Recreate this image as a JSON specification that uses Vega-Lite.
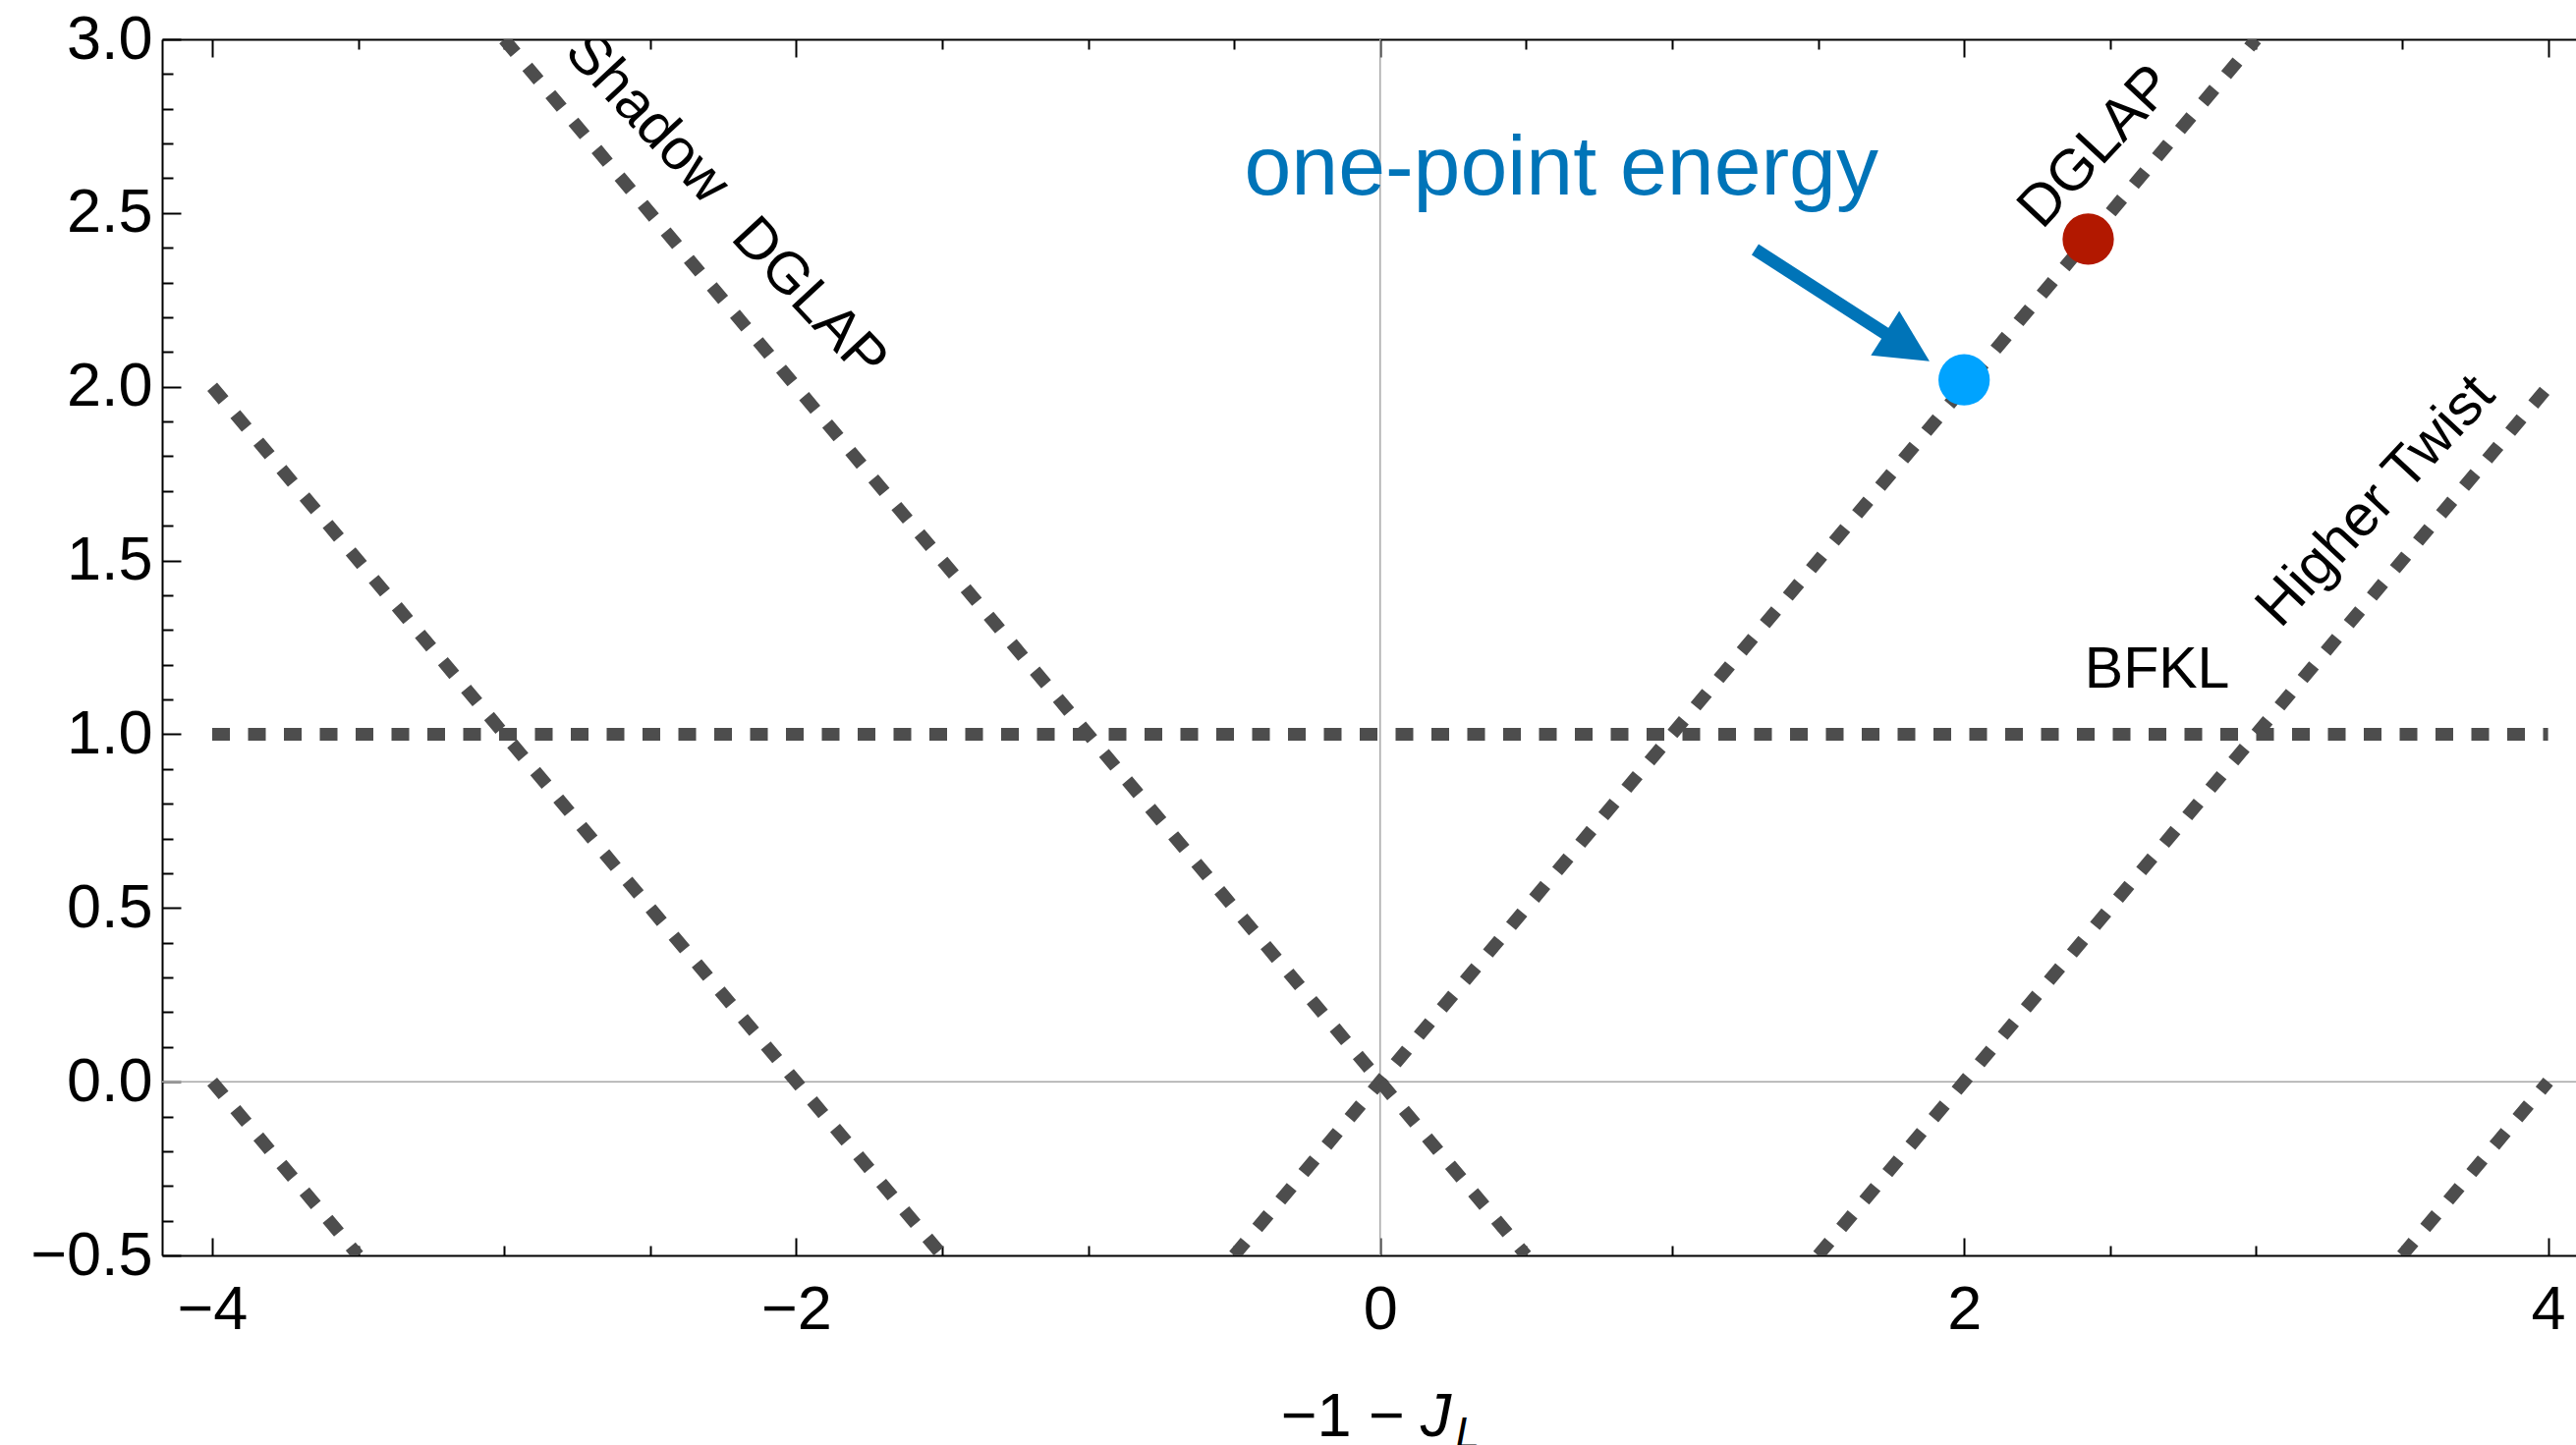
{
  "$schema": "https://vega.github.io/schema/vega-lite/v6.json",
  "width": 2457,
  "height": 1238,
  "autosize": {"type": "none"},
  "padding": {"left": 165, "top": 40, "right": 0, "bottom": 193},
  "background": "white",
  "config": {
    "view": {"stroke": null},
    "font": "Liberation Sans",
    "axis": {
      "grid": false,
      "domainColor": "black",
      "domainWidth": 2,
      "tickColor": "black",
      "tickWidth": 2,
      "labelFont": "Liberation Sans",
      "labelFontSize": 63,
      "labelColor": "black",
      "labelFlush": false,
      "labelOverlap": false,
      "zindex": 1
    }
  },
  "datasets": {
    "lines": [
      {"line": "DGLAP", "x": -0.5, "y": -0.5}, {"line": "DGLAP", "x": 3, "y": 3},
      {"line": "Shadow", "x": -3, "y": 3}, {"line": "Shadow", "x": 0.5, "y": -0.5},
      {"line": "S2", "x": -4, "y": 2}, {"line": "S2", "x": -1.5, "y": -0.5},
      {"line": "S4", "x": -4, "y": 0}, {"line": "S4", "x": -3.5, "y": -0.5},
      {"line": "HT", "x": 1.5, "y": -0.5}, {"line": "HT", "x": 4, "y": 2},
      {"line": "HT2", "x": 3.5, "y": -0.5}, {"line": "HT2", "x": 4, "y": 0},
      {"line": "BFKL", "x": -4, "y": 1}, {"line": "BFKL", "x": 4, "y": 1}
    ],
    "dots": [
      {"name": "one-point energy", "x": 2.0, "y": 2.02},
      {"name": "DGLAP", "x": 2.425, "y": 2.425}
    ]
  },
  "resolve": {"axis": {"x": "independent", "y": "independent"}},
  "layer": [
    {
      "data": {"values": [{"v": 0}]},
      "mark": {"type": "rule", "color": "#a8a8a8", "strokeWidth": 1.5},
      "encoding": {
        "x": {"field": "v", "type": "quantitative", "scale": {"domain": [-4.1716, 4.0956], "nice": false, "zero": false}, "axis": null}
      }
    },
    {
      "data": {"values": [{"v": 0}]},
      "mark": {"type": "rule", "color": "#a8a8a8", "strokeWidth": 1.5},
      "encoding": {
        "y": {"field": "v", "type": "quantitative", "scale": {"domain": [-0.5, 3.0], "nice": false, "zero": false}, "axis": null}
      }
    },
    {
      "data": {"name": "lines"},
      "mark": {"type": "line", "color": "#4d4d4d", "strokeWidth": 13, "strokeDash": [18, 18.5], "strokeCap": "butt", "clip": true},
      "encoding": {
        "x": {"field": "x", "type": "quantitative", "scale": {"domain": [-4.1716, 4.0956], "nice": false, "zero": false},
          "axis": {"orient": "bottom", "values": [-4, -2, 0, 2, 4], "tickSize": -18, "labelPadding": 42, "format": "d", "title": null}},
        "y": {"field": "y", "type": "quantitative", "scale": {"domain": [-0.5, 3.0], "nice": false, "zero": false},
          "axis": {"orient": "left", "values": [-0.5, 0, 0.5, 1, 1.5, 2, 2.5, 3], "tickSize": -19, "labelPadding": 29, "format": ".1f", "title": null}},
        "detail": {"field": "line", "type": "nominal"}
      }
    },
    {
      "data": {"name": "dots"},
      "mark": {"type": "circle", "size": 2734, "opacity": 1},
      "encoding": {
        "x": {"field": "x", "type": "quantitative", "scale": {"domain": [-4.1716, 4.0956], "nice": false, "zero": false},
          "axis": {"orient": "bottom", "values": [-3.5, -3, -2.5, -1.5, -1, -0.5, 0.5, 1, 1.5, 2.5, 3, 3.5], "tickSize": -10, "labels": false, "domain": false, "title": null}},
        "y": {"field": "y", "type": "quantitative", "scale": {"domain": [-0.5, 3.0], "nice": false, "zero": false},
          "axis": {"orient": "left", "values": [-0.4, -0.3, -0.2, -0.1, 0.1, 0.2, 0.3, 0.4, 0.6, 0.7, 0.8, 0.9, 1.1, 1.2, 1.3, 1.4, 1.6, 1.7, 1.8, 1.9, 2.1, 2.2, 2.3, 2.4, 2.6, 2.7, 2.8, 2.9], "tickSize": -11, "labels": false, "domain": false, "title": null}},
        "color": {"field": "name", "type": "nominal", "scale": {"domain": ["one-point energy", "DGLAP"], "range": ["#00A3FF", "#B21800"]}, "legend": null}
      }
    },
    {
      "data": {"values": [{"label": "BFKL", "x": 2.661, "y": 1.134}]},
      "mark": {"type": "text", "font": "Liberation Sans", "fontSize": 59, "color": "black", "align": "center", "baseline": "alphabetic"},
      "encoding": {
        "x": {"field": "x", "type": "quantitative", "scale": {"domain": [-4.1716, 4.0956], "nice": false, "zero": false},
          "axis": {"orient": "top", "values": [-4, -2, 0, 2, 4], "tickSize": -18, "labels": false, "domain": true, "title": null}},
        "y": {"field": "y", "type": "quantitative", "scale": {"domain": [-0.5, 3.0], "nice": false, "zero": false}, "axis": null},
        "text": {"field": "label"}
      }
    },
    {
      "data": {"values": [{"label": "one-point energy", "x": 0.6205, "y": 2.5524}]},
      "mark": {"type": "text", "font": "Liberation Sans", "fontSize": 86, "color": "#0074B8", "align": "center", "baseline": "alphabetic"},
      "encoding": {
        "x": {"field": "x", "type": "quantitative", "scale": {"domain": [-4.1716, 4.0956], "nice": false, "zero": false},
          "axis": {"orient": "top", "values": [-3.5, -3, -2.5, -1.5, -1, -0.5, 0.5, 1, 1.5, 2.5, 3, 3.5], "tickSize": -10, "labels": false, "domain": false, "title": null}},
        "y": {"field": "y", "type": "quantitative", "scale": {"domain": [-0.5, 3.0], "nice": false, "zero": false}, "axis": null},
        "text": {"field": "label"}
      }
    },
    {
      "data": {"values": [
        {"label": "DGLAP", "x": 2.452, "y": 2.691},
        {"label": "Higher Twist", "x": 3.41, "y": 1.671}
      ]},
      "mark": {"type": "text", "font": "Liberation Sans", "fontSize": 59, "color": "black", "align": "center", "baseline": "middle", "angle": 313, "clip": true},
      "encoding": {
        "x": {"field": "x", "type": "quantitative", "scale": {"domain": [-4.1716, 4.0956], "nice": false, "zero": false}, "axis": null},
        "y": {"field": "y", "type": "quantitative", "scale": {"domain": [-0.5, 3.0], "nice": false, "zero": false}, "axis": null},
        "text": {"field": "label"}
      }
    },
    {
      "data": {"values": [
        {"label": "Shadow", "x": -2.51, "y": 2.774},
        {"label": "DGLAP", "x": -1.955, "y": 2.254}
      ]},
      "mark": {"type": "text", "font": "Liberation Sans", "fontSize": 59, "color": "black", "align": "center", "baseline": "middle", "angle": 47, "clip": true},
      "encoding": {
        "x": {"field": "x", "type": "quantitative", "scale": {"domain": [-4.1716, 4.0956], "nice": false, "zero": false}, "axis": null},
        "y": {"field": "y", "type": "quantitative", "scale": {"domain": [-0.5, 3.0], "nice": false, "zero": false}, "axis": null},
        "text": {"field": "label"}
      }
    },
    {
      "data": {"values": [{"x": 1.2843, "y": 2.395, "x2": 1.7497, "y2": 2.1428}]},
      "mark": {"type": "rule", "color": "#0074B8", "strokeWidth": 13, "strokeCap": "butt"},
      "encoding": {
        "x": {"field": "x", "type": "quantitative", "scale": {"domain": [-4.1716, 4.0956], "nice": false, "zero": false}, "axis": null},
        "y": {"field": "y", "type": "quantitative", "scale": {"domain": [-0.5, 3.0], "nice": false, "zero": false}, "axis": null},
        "x2": {"field": "x2"},
        "y2": {"field": "y2"}
      }
    },
    {
      "data": {"values": [{"x": 1.8054, "y": 2.1138}]},
      "mark": {"type": "point", "shape": "M1,0L-1,-1L-1,1Z", "filled": true, "opacity": 1, "size": 2873, "angle": 32.5, "color": "#0074B8"},
      "encoding": {
        "x": {"field": "x", "type": "quantitative", "scale": {"domain": [-4.1716, 4.0956], "nice": false, "zero": false}, "axis": null},
        "y": {"field": "y", "type": "quantitative", "scale": {"domain": [-0.5, 3.0], "nice": false, "zero": false}, "axis": null}
      }
    },
    {
      "data": {"values": [{"label": "\u22121 \u2212", "x": 0.084, "y": -1.0195}]},
      "mark": {"type": "text", "font": "Liberation Sans", "fontSize": 63, "color": "black", "align": "right", "baseline": "alphabetic", "clip": false},
      "encoding": {
        "x": {"field": "x", "type": "quantitative", "scale": {"domain": [-4.1716, 4.0956], "nice": false, "zero": false}, "axis": null},
        "y": {"field": "y", "type": "quantitative", "scale": {"domain": [-0.5, 3.0], "nice": false, "zero": false}, "axis": null},
        "text": {"field": "label"}
      }
    },
    {
      "data": {"values": [{"label": "J", "x": 0.138, "y": -1.0195}]},
      "mark": {"type": "text", "font": "Liberation Sans", "fontStyle": "italic", "fontSize": 63, "color": "black", "align": "left", "baseline": "alphabetic", "clip": false},
      "encoding": {
        "x": {"field": "x", "type": "quantitative", "scale": {"domain": [-4.1716, 4.0956], "nice": false, "zero": false}, "axis": null},
        "y": {"field": "y", "type": "quantitative", "scale": {"domain": [-0.5, 3.0], "nice": false, "zero": false}, "axis": null},
        "text": {"field": "label"}
      }
    },
    {
      "data": {"values": [{"label": "L", "x": 0.2578, "y": -1.0543}]},
      "mark": {"type": "text", "font": "Liberation Sans", "fontStyle": "italic", "fontSize": 44, "color": "black", "align": "left", "baseline": "alphabetic", "clip": false},
      "encoding": {
        "x": {"field": "x", "type": "quantitative", "scale": {"domain": [-4.1716, 4.0956], "nice": false, "zero": false}, "axis": null},
        "y": {"field": "y", "type": "quantitative", "scale": {"domain": [-0.5, 3.0], "nice": false, "zero": false}, "axis": null},
        "text": {"field": "label"}
      }
    }
  ]
}
